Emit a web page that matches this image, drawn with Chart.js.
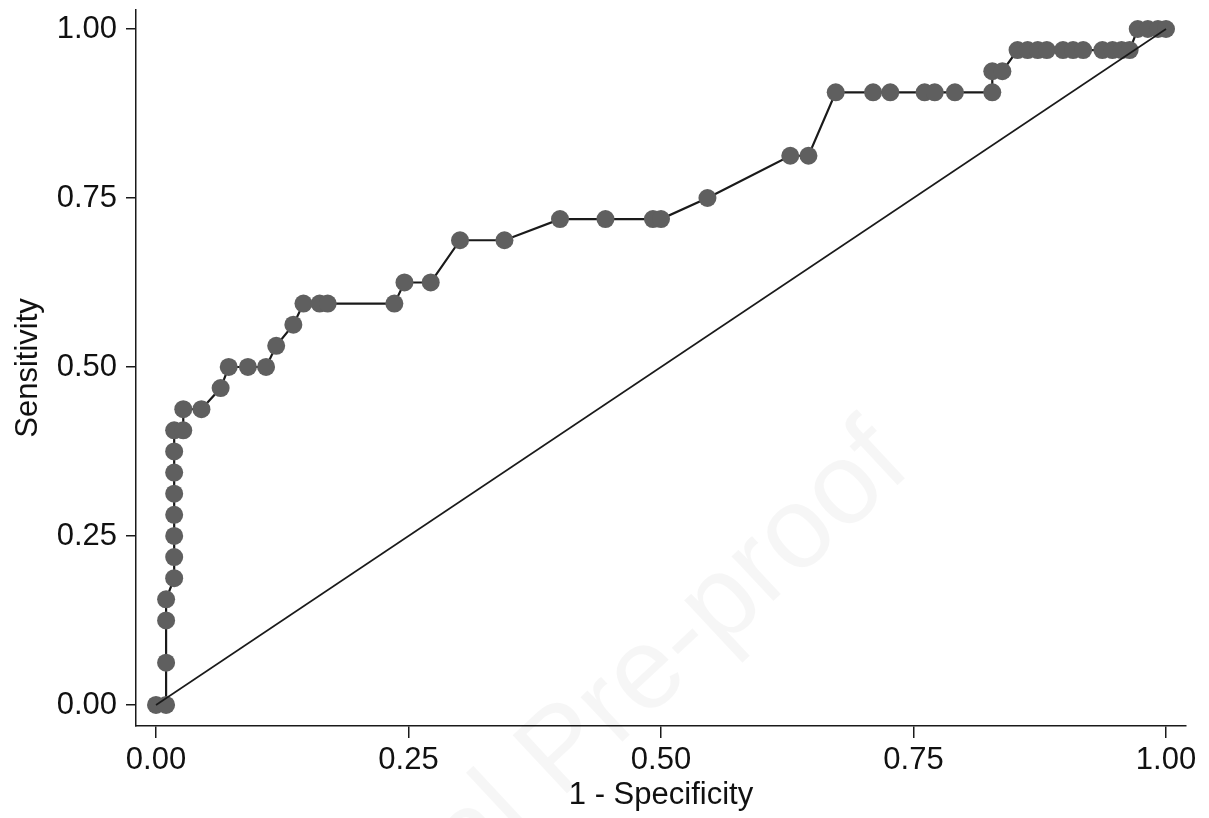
<!DOCTYPE html>
<html>
<head>
<meta charset="utf-8">
<title>ROC curve</title>
<script src="https://cdn.jsdelivr.net/npm/chart.js@4.4.1/dist/chart.umd.min.js"></script>
<style>
  html, body { margin: 0; padding: 0; background: #fff; }
  #wrap { width: 1209px; height: 818px; }
</style>
</head>
<body>
<div id="wrap"><canvas id="roc" width="1209" height="818"></canvas></div>
<script>
// 1 - specificity (x) and sensitivity (y)
const oneMinusSpec = [
  0, 0.010, 0.010, 0.010, 0.010,
  0.018, 0.018, 0.018, 0.018, 0.018, 0.018, 0.018, 0.018,
  0.027, 0.027, 0.045, 0.064,
  0.072, 0.091, 0.109, 0.119, 0.136,
  0.146, 0.162, 0.170, 0.236,
  0.246, 0.272, 0.301, 0.345,
  0.400, 0.445, 0.492, 0.500, 0.546,
  0.628, 0.646,
  0.673, 0.710, 0.727, 0.761, 0.771, 0.791, 0.828,
  0.828, 0.838,
  0.853, 0.863, 0.873, 0.882, 0.898, 0.908, 0.918, 0.937, 0.947, 0.956, 0.964,
  0.972, 0.982, 0.992, 1.000
];
const sensitivity = [
  0, 0, 0.0625, 0.125, 0.15625,
  0.1875, 0.21875, 0.25, 0.28125, 0.3125, 0.34375, 0.375, 0.40625,
  0.40625, 0.4375, 0.4375, 0.46875,
  0.5, 0.5, 0.5, 0.53125, 0.5625,
  0.59375, 0.59375, 0.59375, 0.59375,
  0.625, 0.625, 0.6875, 0.6875,
  0.71875, 0.71875, 0.71875, 0.71875, 0.75,
  0.8125, 0.8125,
  0.90625, 0.90625, 0.90625, 0.90625, 0.90625, 0.90625, 0.90625,
  0.9375, 0.9375,
  0.96875, 0.96875, 0.96875, 0.96875, 0.96875, 0.96875, 0.96875, 0.96875, 0.96875, 0.96875, 0.96875,
  1, 1, 1, 1
];
// reference (chance) line
const refX = [0, 1];
const refY = [0, 1];

const xTicks = [0, 0.25, 0.5, 0.75, 1];
const yTicks = [0, 0.25, 0.5, 0.75, 1];
const xTitle = '1 - Specificity';
const yTitle = 'Sensitivity';
const watermark = 'Journal Pre-proof';

const FONT = "'Liberation Sans', Arial, Helvetica, sans-serif";
const INK = '#1a1a1a';

const rocPoints = oneMinusSpec.map((x, i) => ({ x: x, y: sensitivity[i] }));
const refPoints = refX.map((x, i) => ({ x: x, y: refY[i] }));

// faint diagonal watermark
const watermarkPlugin = {
  id: 'watermark',
  beforeDatasetsDraw(chart) {
    const ctx = chart.ctx;
    ctx.save();
    ctx.translate(560, 800);
    ctx.rotate(-43 * Math.PI / 180);
    ctx.font = `116px ${FONT}`;
    ctx.textBaseline = 'alphabetic';
    ctx.fillStyle = 'rgba(0,0,0,0.035)';
    ctx.textAlign = 'left';
    const parts = watermark.split(' ');
    ctx.fillText(parts[1], 0, 0);
    ctx.textAlign = 'right';
    ctx.fillText(parts[0] + ' ', 0, 0);
    ctx.restore();
  }
};

new Chart(document.getElementById('roc').getContext('2d'), {
  type: 'scatter',
  data: {
    datasets: [
      {
        label: 'Reference',
        data: refPoints,
        showLine: true,
        borderColor: INK,
        borderWidth: 1.6,
        pointRadius: 0,
        fill: false
      },
      {
        label: 'ROC',
        data: rocPoints,
        showLine: true,
        borderColor: INK,
        borderWidth: 2.2,
        pointRadius: 9,
        pointBackgroundColor: '#5f5f5f',
        pointBorderWidth: 0,
        fill: false
      }
    ]
  },
  options: {
    responsive: false,
    animation: false,
    layout: { padding: { top: 10, right: 23, left: 0, bottom: 0 } },
    plugins: {
      legend: { display: false },
      tooltip: { enabled: false }
    },
    scales: {
      x: {
        type: 'linear',
        min: -0.0198,
        max: 1.0198,
        afterBuildTicks: s => { s.ticks = xTicks.map(v => ({ value: v })); },
        afterFit: s => { s.height = 92; s.paddingLeft = 0; s.paddingRight = 0; },
        ticks: {
          callback: v => v.toFixed(2),
          font: { family: FONT, size: 31 },
          color: '#111',
          padding: 4,
          maxRotation: 0
        },
        grid: { drawOnChartArea: false, drawTicks: true, tickLength: 12, color: INK, lineWidth: 1.5 },
        border: { display: true, color: INK, width: 1.5 },
        title: {
          display: true,
          text: xTitle,
          font: { family: FONT, size: 31 },
          color: '#111',
          padding: { top: 0, bottom: 4 }
        }
      },
      y: {
        type: 'linear',
        min: -0.0311,
        max: 1.0281,
        afterBuildTicks: s => { s.ticks = yTicks.map(v => ({ value: v })); },
        afterFit: s => { s.width = 136; s.paddingTop = 0; s.paddingBottom = 0; },
        ticks: {
          callback: v => v.toFixed(2),
          font: { family: FONT, size: 31 },
          color: '#111',
          padding: 9
        },
        grid: { drawOnChartArea: false, drawTicks: true, tickLength: 10, color: INK, lineWidth: 1.5 },
        border: { display: true, color: INK, width: 1.5 },
        title: {
          display: true,
          text: yTitle,
          font: { family: FONT, size: 31 },
          color: '#111',
          padding: { top: 10, bottom: 0 }
        }
      }
    }
  },
  plugins: [watermarkPlugin]
});
</script>
</body>
</html>
